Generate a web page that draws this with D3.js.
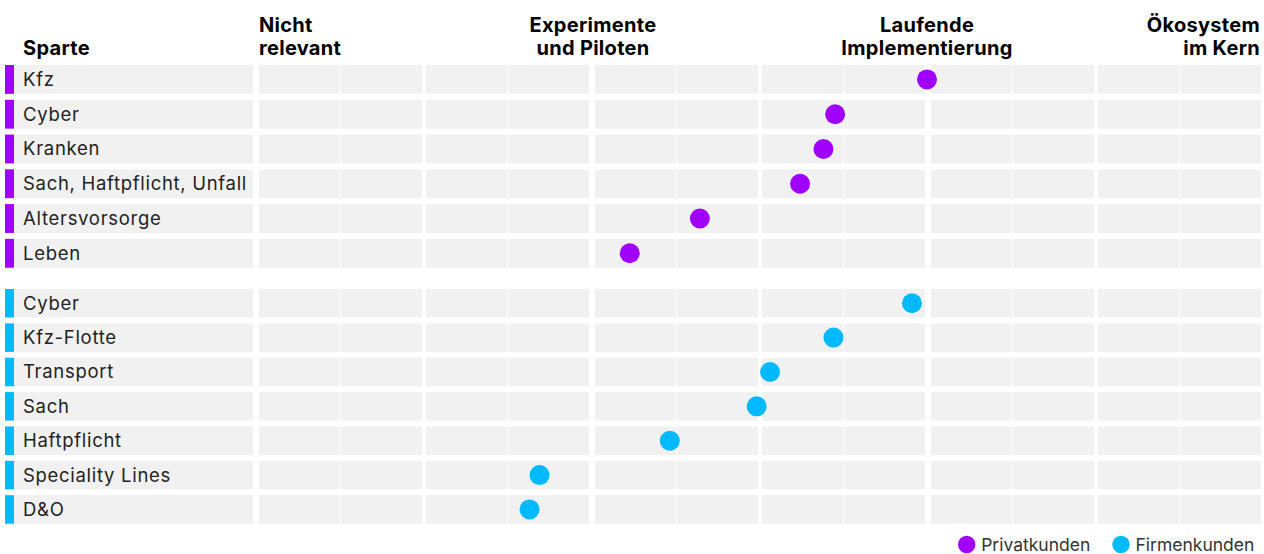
<!DOCTYPE html>
<html>
<head>
<meta charset="utf-8">
<script src="https://cdn.jsdelivr.net/npm/d3@7"></script>
<style>
  body { margin: 0; background: #ffffff; }
  svg { display: block; }
  text { font-family: Inter, "Noto Sans", sans-serif; }
</style>
</head>
<body>
<svg id="chart" width="1264" height="554"></svg>
<script>
// Reifegrad-Stufen (Spaltenköpfe), je Zeile ein Eintrag
const stageLabels = [
  ["Nicht", "relevant"],
  ["Experimente", "und Piloten"],
  ["Laufende", "Implementierung"],
  ["Ökosystem", "im Kern"]
];
const columnTitle = "Sparte";

// Privatkunden
const privatSparten = ["Kfz", "Cyber", "Kranken", "Sach, Haftpflicht, Unfall", "Altersvorsorge", "Leben"];
const privatWerte   = [2.00, 1.725, 1.69, 1.62, 1.32, 1.11];

// Firmenkunden
const firmenSparten = ["Cyber", "Kfz-Flotte", "Transport", "Sach", "Haftpflicht", "Speciality Lines", "D&O"];
const firmenWerte   = [1.955, 1.72, 1.53, 1.49, 1.23, 0.84, 0.81];

const legendLabels = ["Privatkunden", "Firmenkunden"];

const colors = { privat: "#A100FF", firmen: "#00BAFF", cell: "#F1F1F1", text: "#222222" };

const svg = d3.select("#chart");

// Horizontale Skala: Stufe 0..3 über den Rasterbereich
const x = d3.scaleLinear().domain([0, 3]).range([259, 1261]);

// Drei Intervalle zwischen den Stufen, je zwei Segmente, je zwei Zellen
const intervals = d3.scaleBand().domain([0, 1, 2]).range(x.range()).paddingInner(6 / 336);
const segGap = 4, cellGap = 1;
const cells = [];
intervals.domain().forEach(i => {
  const x0 = intervals(i), bw = intervals.bandwidth();
  const segW = (bw - segGap) / 2;
  for (let s = 0; s < 2; s++) {
    const sx = x0 + s * (segW + segGap);
    const cw = (segW - cellGap) / 2;
    for (let c = 0; c < 2; c++) cells.push({ x: sx + c * (cw + cellGap), w: cw });
  }
});

// Vertikale Skalen für die beiden Gruppen
const yPrivat = d3.scaleBand().domain(privatSparten).range([65, 267.7]).paddingInner(0.17);
const yFirmen = d3.scaleBand().domain(firmenSparten).range([289, 523.7]).paddingInner(0.17);

const groups = [
  { names: privatSparten, values: privatWerte, y: yPrivat, color: colors.privat, key: "privat" },
  { names: firmenSparten, values: firmenWerte, y: yFirmen, color: colors.firmen, key: "firmen" }
];

// Spaltenköpfe
const header = svg.append("g").attr("font-weight", 700).attr("font-size", 20)
  .attr("letter-spacing", 0.3).attr("fill", "#000");
header.append("text").attr("x", 23).attr("y", 54.5).text(columnTitle);
const anchors = ["start", "middle", "middle", "end"];
stageLabels.forEach((lines, i) => {
  const hx = i === 3 ? x(i) - 1 : x(i);
  const t = header.append("text").attr("x", hx).attr("text-anchor", anchors[i]);
  lines.forEach((ln, k) => t.append("tspan").attr("x", hx).attr("y", 32 + k * 22.5).text(ln));
});

// Zeilen
groups.forEach(g => {
  const rows = svg.append("g").attr("class", "rows-" + g.key)
    .selectAll("g").data(g.names.map((n, i) => ({ name: n, value: g.values[i] })))
    .join("g").attr("transform", d => `translate(0,${g.y(d.name)})`);
  const h = g.y.bandwidth();

  rows.append("rect").attr("x", 5).attr("width", 9).attr("height", h).attr("fill", g.color);
  rows.append("rect").attr("x", 14).attr("width", 239).attr("height", h).attr("fill", colors.cell);
  rows.append("text").attr("x", 23).attr("y", h / 2 + 6.5)
    .attr("font-size", 18.5).attr("fill", colors.text).attr("letter-spacing", 0.7)
    .text(d => d.name);

  rows.selectAll("rect.cell").data(cells).join("rect").attr("class", "cell")
    .attr("x", c => c.x).attr("width", c => c.w).attr("height", h).attr("fill", colors.cell);

  rows.append("circle")
    .attr("cx", d => x(d.value)).attr("cy", h / 2).attr("r", 10).attr("fill", g.color);
});

// Legende
const legend = svg.append("g").attr("font-size", 17.5).attr("fill", "#333");
const legendX = [966.7, 1121];
legendLabels.forEach((lab, i) => {
  legend.append("circle").attr("cx", legendX[i]).attr("cy", 544.5).attr("r", 8.7)
    .attr("fill", i === 0 ? colors.privat : colors.firmen);
  legend.append("text").attr("x", legendX[i] + 14.5).attr("y", 550.5).text(lab);
});
</script>
</body>
</html>
